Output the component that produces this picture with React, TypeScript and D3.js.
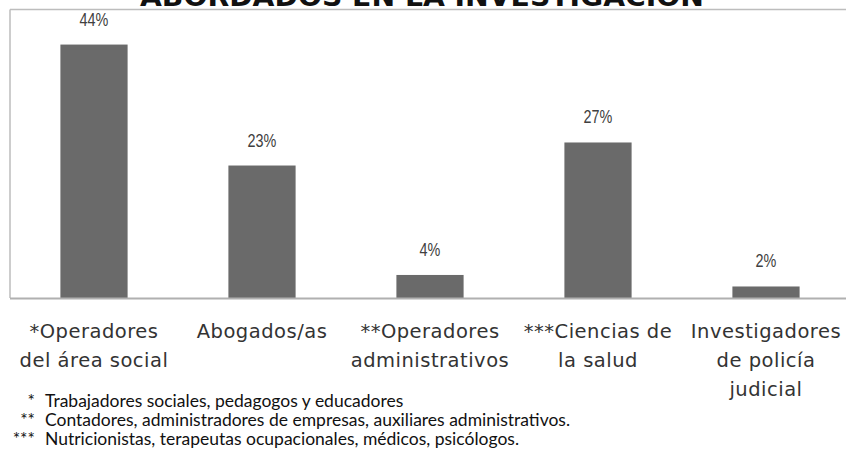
import React from "react";
import * as d3 from "d3";

const categories: string[][] = [
  ["*Operadores", "del área social"],
  ["Abogados/as"],
  ["**Operadores", "administrativos"],
  ["***Ciencias de", "la salud"],
  ["Investigadores", "de policía", "judicial"],
];
const values: number[] = [44, 23, 4, 27, 2];
const valueLabels: string[] = ["44%", "23%", "4%", "27%", "2%"];
const title = "ABORDADOS EN LA INVESTIGACIÓN";
const footMarks: string[] = ["*", "**", "***"];
const footTexts: string[] = [
  "Trabajadores sociales, pedagogos y educadores",
  "Contadores, administradores de empresas, auxiliares administrativos.",
  "Nutricionistas, terapeutas ocupacionales, médicos, psicólogos.",
];

const W = 846;
const H = 451;

export default function App() {
  const idx = categories.map((_, i) => String(i));
  const x = d3.scaleBand<string>().domain(idx).range([10, 850]).paddingInner(0.6).paddingOuter(0.3);
  const y = d3.scaleLinear().domain([0, 50]).range([298, 10]);
  const labelFont = "'DejaVu Sans', 'Comic Sans MS', sans-serif";
  const valueFont = "'Liberation Sans', Arial, sans-serif";
  const footFont = "Lato, 'Open Sans', sans-serif";
  return (
    <svg width={W} height={H} style={{ position: "absolute", left: 0, top: 0, background: "#fff" }}>
      <rect x={0} y={0} width={W} height={H} fill="#fff" />
      <text
        x={422}
        y={5.5}
        textAnchor="middle"
        fontFamily="'DejaVu Sans', sans-serif"
        fontWeight="bold"
        fontSize={27}
        fill="#111"
        textLength={564}
        lengthAdjust="spacingAndGlyphs"
      >
        {title}
      </text>
      {/* frame */}
      <line x1={10} x2={850} y1={9.5} y2={9.5} stroke="#bdbdbd" strokeWidth={1.5} />
      <line x1={10} x2={10} y1={9.5} y2={298} stroke="#bdbdbd" strokeWidth={1.5} />
      {values.map((v, i) => (
        <rect
          key={"b" + i}
          x={x(String(i))!}
          y={y(v)}
          width={x.bandwidth()}
          height={y(0) - y(v)}
          fill="#6a6a6a"
        />
      ))}
      <line x1={10} x2={850} y1={298.5} y2={298.5} stroke="#b0b0b0" strokeWidth={2} />
      {values.map((v, i) => (
        <text
          key={"v" + i}
          transform={`translate(${x(String(i))! + x.bandwidth() / 2},${y(v) - 19}) scale(0.8,1)`}
          textAnchor="middle"
          fontFamily={valueFont}
          fontSize={18}
          fill="#404040"
        >
          {valueLabels[i]}
        </text>
      ))}
      {categories.map((lines, i) =>
        lines.map((ln, j) => (
          <text
            key={"c" + i + "-" + j}
            x={x(String(i))! + x.bandwidth() / 2}
            y={338 + j * 29}
            textAnchor="middle"
            fontFamily={labelFont}
            fontSize={19.5}
            letterSpacing={0.5}
            fill="#333"
          >
            {ln}
          </text>
        ))
      )}
      {footTexts.map((t, i) => (
        <g key={"f" + i}>
          <text x={35} y={406.5 + i * 19.3} textAnchor="end" fontFamily={footFont} fontSize={17.5} fill="#111">
            {footMarks[i]}
          </text>
          <text x={45} y={406.5 + i * 19.3} fontFamily={footFont} fontSize={17.5} fill="#111">
            {t}
          </text>
        </g>
      ))}
    </svg>
  );
}
